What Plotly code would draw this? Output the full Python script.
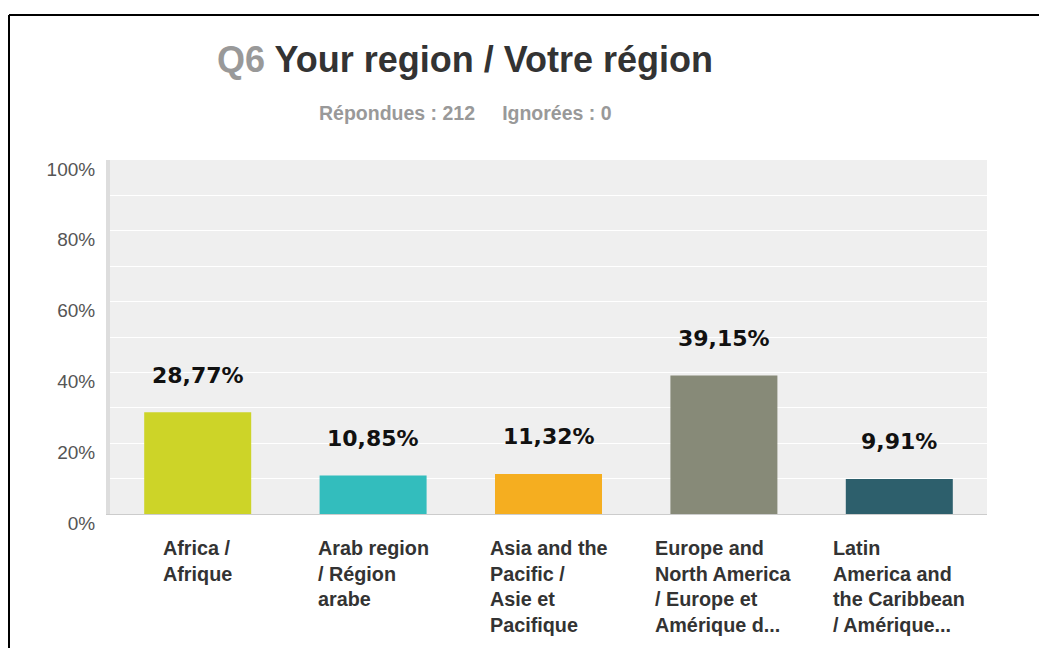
import plotly.graph_objects as go

categories = [
    "Africa /<br>Afrique",
    "Arab region<br>/ Région<br>arabe",
    "Asia and the<br>Pacific /<br>Asie et<br>Pacifique",
    "Europe and<br>North America<br>/ Europe et<br>Amérique d...",
    "Latin<br>America and<br>the Caribbean<br>/ Amérique...",
]
values = [28.77, 10.85, 11.32, 39.15, 9.91]
value_labels = ["28,77%", "10,85%", "11,32%", "39,15%", "9,91%"]
colors = ["#cdd428", "#33bdbd", "#f5ae20", "#878a78", "#2d5f6c"]
tick_vals = [0, 20, 40, 60, 80, 100]
tick_text = ["0%", "20%", "40%", "60%", "80%", "100%"]

OFF = 8  # page body margin
W, H = 1047 - OFF, 648 - OFF
# plot area in screen pixels: x 110..987, y 160..514
SX0, SX1, SY0, SY1 = 110, 987, 160, 514
L, T = SX0 - OFF, SY0 - OFF
R, B = W - (SX1 - OFF), H - (SY1 - OFF)
pw, ph = SX1 - SX0, SY1 - SY0


def px_x(p):
    return (p - SX0) / pw


def px_y(p):
    return (SY1 - p) / ph


fig = go.Figure()
fig.add_trace(go.Bar(
    x=categories, y=values, marker=dict(color=colors, line=dict(width=0)),
    hoverinfo="skip",
))

annotations = []
for c, v, t in zip(categories, values, value_labels):
    annotations.append(dict(
        x=c, y=v, xref="x", yref="y", text=f"<b>{t}</b>", showarrow=False,
        yanchor="middle", yshift=37,
        font=dict(family="DejaVu Sans", size=22, color="#111111"),
    ))
    annotations.append(dict(
        x=c, y=0, xref="x", yref="paper", text=f"<b>{c}</b>", showarrow=False,
        xanchor="center", yanchor="top", align="left", yshift=-21,
        font=dict(family="Liberation Sans", size=19.8, color="#333333"),
    ))

annotations.append(dict(
    x=px_x(465), y=px_y(60), xref="paper", yref="paper", showarrow=False,
    xanchor="center", yanchor="middle",
    text="<b><span style='color:#999999'>Q6</span> Your region / Votre région</b>",
    font=dict(family="Liberation Sans", size=36, color="#333333"),
))
annotations.append(dict(
    x=px_x(465), y=px_y(113), xref="paper", yref="paper", showarrow=False,
    xanchor="center", yanchor="middle",
    text="<b>Répondues : 212\u00a0\u00a0\u00a0\u00a0\u00a0Ignorées : 0</b>",
    font=dict(family="Liberation Sans", size=19.5, color="#999999"),
))

shapes = [
    dict(type="line", xref="paper", yref="paper",
         x0=px_x(9), x1=px_x(1070), y0=px_y(15), y1=px_y(15),
         line=dict(color="black", width=2)),
    dict(type="line", xref="paper", yref="paper",
         x0=px_x(9), x1=px_x(9), y0=px_y(15), y1=px_y(680),
         line=dict(color="black", width=2)),
]

fig.update_layout(
    width=W, height=H,
    margin=dict(l=L, r=R, t=T, b=B, pad=0),
    paper_bgcolor="white", plot_bgcolor="#efefef",
    bargap=0.39, showlegend=False,
    annotations=annotations, shapes=shapes,
    font=dict(family="Liberation Sans"),
)
fig.update_xaxes(
    showticklabels=False, showgrid=False, zeroline=False,
    showline=True, linecolor="#cccccc", linewidth=1, ticks="",
)
fig.update_yaxes(
    range=[0, 100], tickvals=tick_vals, ticktext=tick_text,
    showgrid=True, gridcolor="white", gridwidth=1,
    minor=dict(dtick=10, showgrid=True, gridcolor="white", gridwidth=1),
    zeroline=False, showline=True, linecolor="#dddddd", linewidth=4,
    ticks="", ticklabelstandoff=7, ticklabelshift=9,
    tickfont=dict(family="Liberation Sans", size=19, color="#555555"),
)

fig.write_html("out.html")
